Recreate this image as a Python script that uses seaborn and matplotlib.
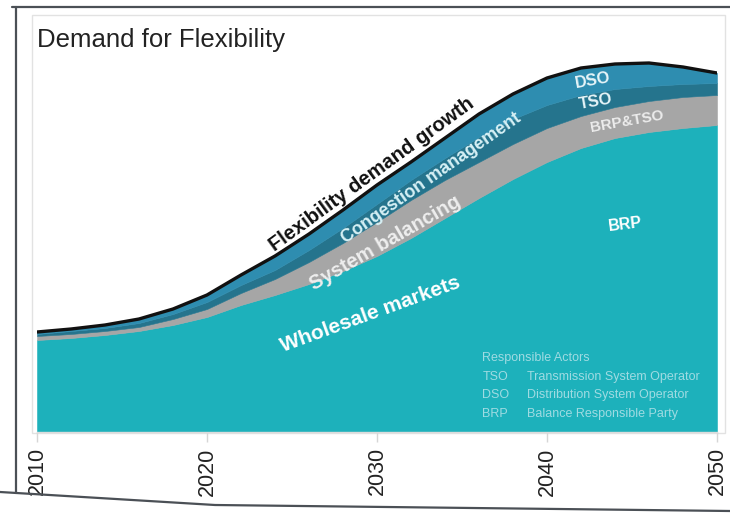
import matplotlib
matplotlib.use("Agg")
import matplotlib.pyplot as plt
from matplotlib.lines import Line2D
from matplotlib.patches import Rectangle
import seaborn as sns
import numpy as np

# Flexibility demand by responsible actor (index units, stacked bottom to top)
years = [2010, 2012, 2014, 2016, 2018, 2020, 2022, 2024, 2026, 2028, 2030,
         2032, 2034, 2036, 2038, 2040, 2042, 2044, 2046, 2048, 2050]
brp = [23.0, 23.5, 24.25, 25.25, 26.75, 28.75, 31.75, 34.25, 37.0, 40.25, 44.0,
       48.5, 53.5, 58.5, 63.25, 67.5, 71.0, 73.5, 75.0, 76.0, 76.75]
brp_tso = [1.0, 1.0, 1.0, 1.0, 1.5, 2.0, 3.0, 4.0, 5.5, 7.0, 8.5,
           9.5, 9.5, 9.0, 8.75, 8.5, 8.0, 7.75, 7.75, 7.75, 7.5]
tso = [0.5, 0.75, 0.75, 1.0, 1.25, 1.75, 2.0, 2.25, 3.0, 3.75, 4.5,
       5.0, 5.5, 6.25, 6.25, 5.75, 5.25, 4.5, 3.75, 3.25, 3.0]
dso = [0.5, 0.5, 0.75, 1.0, 1.25, 1.75, 2.5, 3.5, 4.0, 4.5, 4.75,
       4.5, 5.0, 5.75, 6.25, 6.75, 6.75, 6.25, 5.75, 4.25, 2.5]
tick_years = [2010, 2020, 2030, 2040, 2050]

title = "Demand for Flexibility"
legend_head = "Responsible Actors"
legend_rows = [("TSO", "Transmission System Operator"),
               ("DSO", "Distribution System Operator"),
               ("BRP", "Balance Responsible Party")]

sns.set_theme(style="white")
plt.rcParams["font.family"] = ["Liberation Sans", "DejaVu Sans"]

W, H = 730, 514
fig = plt.figure(figsize=(W / 100, H / 100), dpi=100)
fig.patch.set_facecolor("white")


def fx(x):
    return x / W


def fy(y):
    return 1 - y / H


ax = fig.add_axes([fx(37), fy(432), (717 - 37) / W, (432 - 32) / H])
ax.set_facecolor("none")

c_brp = "#1db1bb"
c_gray = "#a6a6a6"
c_tso = "#25748d"
c_dso = "#2e8db0"

ax.stackplot(years, brp, brp_tso, tso, dso,
             colors=[c_brp, c_gray, c_tso, c_dso],
             edgecolor="face", linewidth=0.4)

total = np.sum([brp, brp_tso, tso, dso], axis=0)
sns.lineplot(x=years, y=total, color="#111111", linewidth=2.4, ax=ax,
             legend=False)

ax.set_xlim(2010, 2050)
ax.set_ylim(0, 100)
ax.set_xticks(tick_years)
ax.set_xticklabels([str(t) for t in tick_years])
ax.set_yticks([])
ax.set_xlabel("")
ax.set_ylabel("")
ax.tick_params(axis="x", bottom=True, length=7, width=1, color="#d6d6d6",
               pad=4, labelsize=15.5, labelcolor="#222222", labelrotation=90)
for s in ["top", "right", "left"]:
    ax.spines[s].set_visible(False)
ax.spines["bottom"].set_color("#dcdcdc")
ax.spines["bottom"].set_linewidth(1)

# Curved-band labels
ax.text(2029.7, 64.3, "Flexibility demand growth", rotation=36,
        ha="center", va="center", fontsize=14.5, fontweight="bold",
        color="#111111", rotation_mode="anchor")
ax.text(2033.2, 63.3, "Congestion management", rotation=35,
        ha="center", va="center", fontsize=13, fontweight="bold",
        color="#d6f0f5", rotation_mode="anchor")
ax.text(2030.5, 47.3, "System balancing", rotation=30,
        ha="center", va="center", fontsize=14.5, fontweight="bold",
        color="#eeeeee", rotation_mode="anchor")
ax.text(2029.6, 29.3, "Wholesale markets", rotation=20,
        ha="center", va="center", fontsize=15, fontweight="bold",
        color="#ffffff", rotation_mode="anchor")
ax.text(2042.7, 87.8, "DSO", rotation=10, ha="center", va="center",
        fontsize=12, fontweight="bold", color="#e6f4f8", rotation_mode="anchor")
ax.text(2042.9, 82.6, "TSO", rotation=10, ha="center", va="center",
        fontsize=12, fontweight="bold", color="#e6f4f8", rotation_mode="anchor")
ax.text(2044.7, 77.5, "BRP&TSO", rotation=10, ha="center", va="center",
        fontsize=11, fontweight="bold", color="#ececec", rotation_mode="anchor")
ax.text(2044.6, 51.8, "BRP", rotation=7, ha="center", va="center",
        fontsize=11.5, fontweight="bold", color="#ffffff", rotation_mode="anchor")

# Abbreviation key
key_color = "#9fdbe2"
ax.text(2036.2, 18.5, legend_head, ha="left", va="center", fontsize=9,
        color=key_color)
for i, (abbr, name) in enumerate(legend_rows):
    yv = 13.75 - i * 4.6
    ax.text(2036.2, yv, abbr, ha="left", va="center", fontsize=9,
            color=key_color)
    ax.text(2038.8, yv, name, ha="left", va="center", fontsize=9,
            color=key_color)

# Title
fig.text(fx(37), fy(47), title, ha="left", va="baseline", fontsize=18.5,
         color="#222222")

# Light chart frame
fig.add_artist(Rectangle((fx(32), fy(433)), (725 - 32) / W, (433 - 15) / H,
                         transform=fig.transFigure, fill=False,
                         edgecolor="#e2e2e2", linewidth=1, zorder=0))

# Dark outer slide edges
edge = "#4b5056"
fig.add_artist(Line2D([fx(12), fx(730)], [fy(7), fy(7)],
                      transform=fig.transFigure, color=edge, linewidth=1.6))
fig.add_artist(Line2D([fx(16), fx(16)], [fy(7), fy(493)],
                      transform=fig.transFigure, color=edge, linewidth=1.6))
fig.add_artist(Line2D([fx(0), fx(215), fx(730)], [fy(492), fy(505), fy(511)],
                      transform=fig.transFigure, color=edge, linewidth=1.6))

fig.savefig("out.png", dpi=100, facecolor="white")
